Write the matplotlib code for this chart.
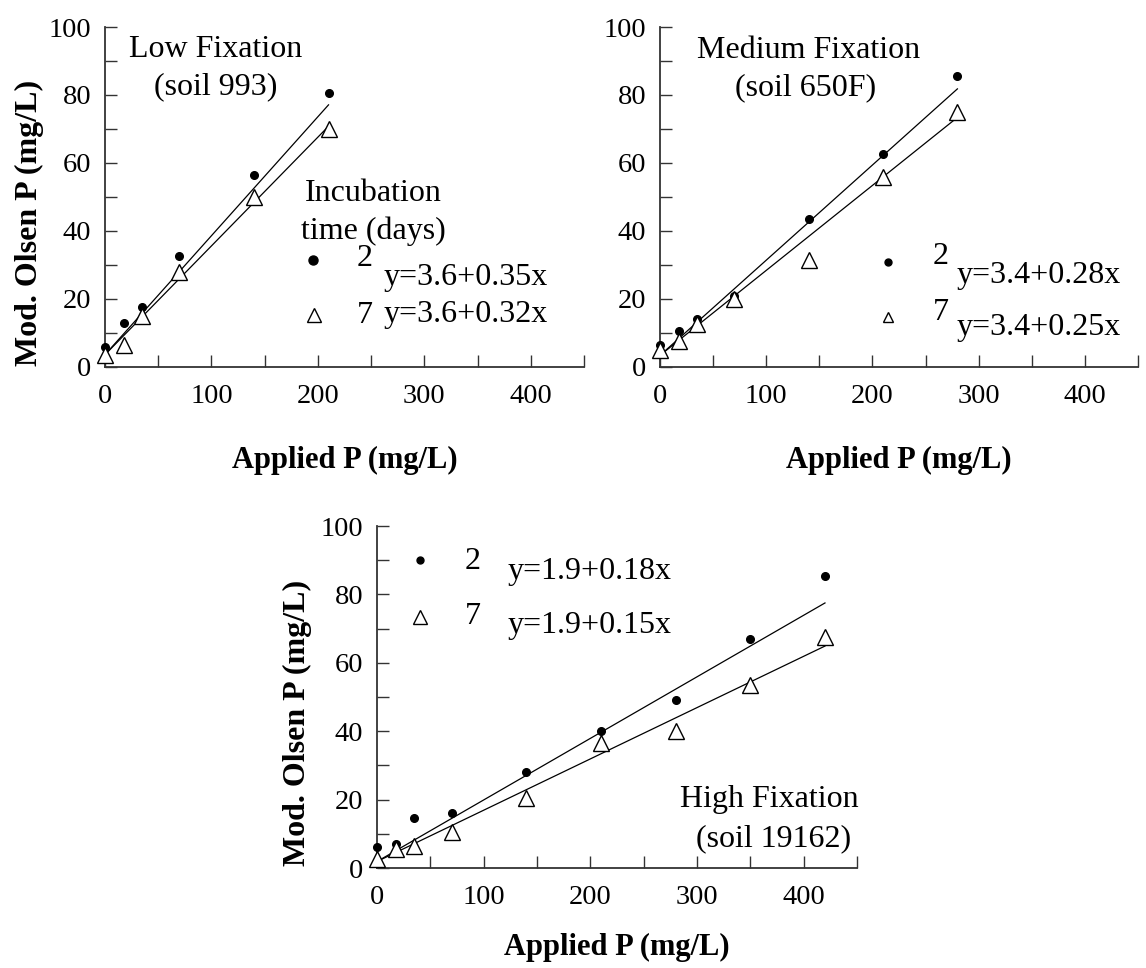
import matplotlib.pyplot as plt
from matplotlib.ticker import MultipleLocator

plt.rcParams['font.family'] = ['Liberation Serif', 'DejaVu Serif']

# applied P (mg/L) for each soil
applied_low = [0, 17.5, 35, 70, 140, 210]
applied_med = [0, 17.5, 35, 70, 140, 210, 280]
applied_high = [0, 17.5, 35, 70, 140, 210, 280, 350, 420]

# modified Olsen P (mg/L), 2 and 7 days incubation
low_day2 = [6, 13, 17.5, 32.5, 56.5, 80.5]
low_day7 = [3.5, 6.5, 15, 28, 50, 70]
med_day2 = [6.5, 10.5, 14, 21, 43.5, 62.5, 85.5]
med_day7 = [5, 7.5, 12.5, 20, 31.5, 56, 75]
high_day2 = [6, 7, 14.5, 16, 28, 40, 49, 67, 85.5]
high_day7 = [2.5, 5.5, 6.5, 10.5, 20.5, 36.5, 40, 53.5, 67.5]

# regression lines y = a + b x  (day 2, day 7)
low_a = [3.6, 3.6]
low_b = [0.35, 0.32]
med_a = [3.4, 3.4]
med_b = [0.28, 0.25]
high_a = [1.9, 1.9]
high_b = [0.18, 0.15]

FS = 23


def panel(ax, x, y2, y7, a, b):
    xe = [0, max(x)]
    ax.plot(xe, [a[0] + b[0] * v for v in xe], color='black', lw=0.9)
    ax.plot(xe, [a[1] + b[1] * v for v in xe], color='black', lw=0.9)
    ax.plot(x, y2, 'o', color='black', ms=5.5, clip_on=False, zorder=3)
    ax.plot(x, y7, '^', mfc='white', mec='black', mew=1.0, ms=11,
            clip_on=False, zorder=3)
    ax.set_xlim(0, 450)
    ax.set_ylim(0, 100)
    ax.xaxis.set_major_locator(MultipleLocator(100))
    ax.xaxis.set_minor_locator(MultipleLocator(50))
    ax.yaxis.set_major_locator(MultipleLocator(20))
    ax.yaxis.set_minor_locator(MultipleLocator(10))
    for s in ['top', 'right']:
        ax.spines[s].set_visible(False)
    for s in ['left', 'bottom']:
        ax.spines[s].set_color('#333333')
        ax.spines[s].set_linewidth(1.3)
    ax.tick_params(which='both', direction='in', length=8.5, width=1.0,
                   color='#333333', labelsize=20.5)
    ax.tick_params(axis='x', pad=12)
    ax.tick_params(axis='y', pad=10)
    ax.set_xlabel('Applied P (mg/L)', fontsize=22, fontweight='bold')


fig = plt.figure(figsize=(11.46, 9.68), dpi=100)
ax1 = fig.add_axes([0.0916, 0.6209, 0.418, 0.3512])
ax2 = fig.add_axes([0.5759, 0.6209, 0.4171, 0.3512])
ax3 = fig.add_axes([0.329, 0.1033, 0.4188, 0.3533])

panel(ax1, applied_low, low_day2, low_day7, low_a, low_b)
panel(ax2, applied_med, med_day2, med_day7, med_a, med_b)
panel(ax3, applied_high, high_day2, high_day7, high_a, high_b)

ax1.xaxis.set_label_coords(0.5, -0.232)
ax2.xaxis.set_label_coords(0.5, -0.232)
ax3.xaxis.set_label_coords(0.5, -0.19)

ax1.set_ylabel('Mod. Olsen P (mg/L)', fontsize=23, fontweight='bold')
ax1.yaxis.set_label_coords(-0.127, 0.425)
ax3.set_ylabel('Mod. Olsen P (mg/L)', fontsize=23, fontweight='bold')
ax3.yaxis.set_label_coords(-0.135, 0.425)

# low fixation panel
ax1.text(104, 93.5, 'Low Fixation', fontsize=FS, ha='center', va='center')
ax1.text(104, 82.5, '(soil 993)', fontsize=FS, ha='center', va='center')
ax1.text(252, 51, 'Incubation', fontsize=FS, ha='center', va='center')
ax1.text(252, 40, 'time (days)', fontsize=FS, ha='center', va='center')
ax1.plot([195], [31.6], 'o', color='black', ms=6.5)
ax1.plot([196], [15.4], '^', mfc='white', mec='black', mew=1.0, ms=10)
ax1.text(244, 32, '2', fontsize=FS, ha='center', va='center')
ax1.text(244, 15, '7', fontsize=FS, ha='center', va='center')
ax1.text(262, 26.2, 'y=3.6+0.35x', fontsize=FS, ha='left', va='center')
ax1.text(262, 15.4, 'y=3.6+0.32x', fontsize=FS, ha='left', va='center')

# medium fixation panel
ax2.text(140, 93, 'Medium Fixation', fontsize=FS, ha='center', va='center')
ax2.text(137, 82, '(soil 650F)', fontsize=FS, ha='center', va='center')
ax2.plot([215], [31], 'o', color='black', ms=5)
ax2.plot([215], [14.6], '^', mfc='white', mec='black', mew=1.0, ms=7.5)
ax2.text(264, 32.5, '2', fontsize=FS, ha='center', va='center')
ax2.text(264, 16, '7', fontsize=FS, ha='center', va='center')
ax2.text(279, 27, 'y=3.4+0.28x', fontsize=FS, ha='left', va='center',
         clip_on=False)
ax2.text(279, 11.5, 'y=3.4+0.25x', fontsize=FS, ha='left', va='center',
         clip_on=False)

# high fixation panel
ax3.plot([40], [90.2], 'o', color='black', ms=5)
ax3.plot([40], [73.4], '^', mfc='white', mec='black', mew=1.0, ms=10)
ax3.text(90, 89.5, '2', fontsize=FS, ha='center', va='center')
ax3.text(90, 73.5, '7', fontsize=FS, ha='center', va='center')
ax3.text(122, 86.6, 'y=1.9+0.18x', fontsize=FS, ha='left', va='center')
ax3.text(122, 70.9, 'y=1.9+0.15x', fontsize=FS, ha='left', va='center')
ax3.text(368, 20, 'High Fixation', fontsize=FS, ha='center', va='center')
ax3.text(372, 8.5, '(soil 19162)', fontsize=FS, ha='center', va='center')

fig.savefig('out.png', dpi=100)
